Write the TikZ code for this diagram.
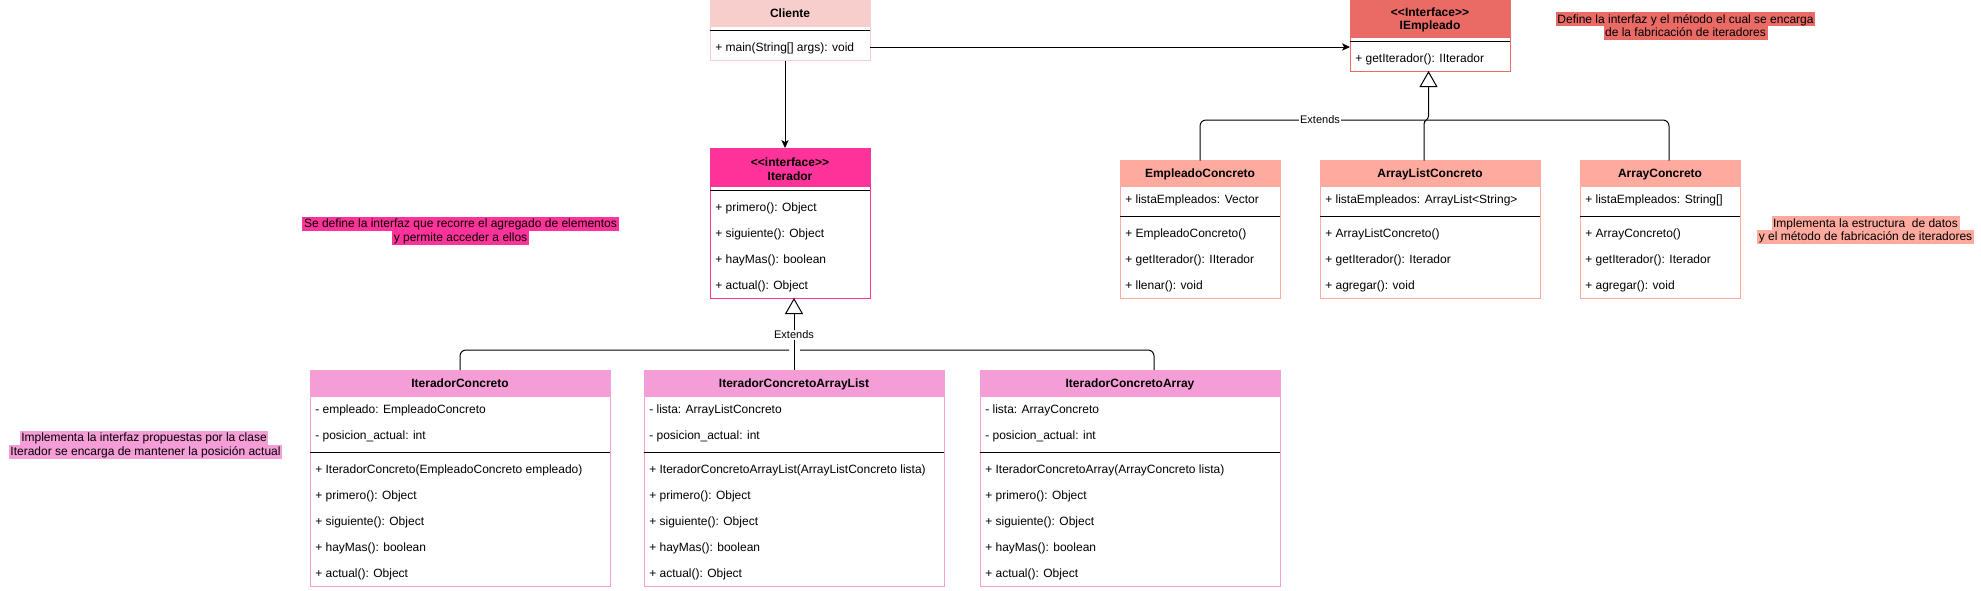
\documentclass[tikz,border=0pt]{standalone}
\usepackage{fontspec}
\newfontfamily\umlfont{Liberation Sans}
\usetikzlibrary{arrows.meta,calc}
\definecolor{cliC}{HTML}{F8CECC}
\definecolor{iterC}{HTML}{FF3399}
\definecolor{iempC}{HTML}{EA6B66}
\definecolor{rightC}{HTML}{FFAA9F}
\definecolor{botC}{HTML}{F59DD6}
\tikzset{
  classbox/.style={rectangle, anchor=north west, inner sep=0pt, outer sep=0pt, fill=white, line width=0.75pt},
  classhead/.style={rectangle, anchor=north west, inner sep=0pt, outer sep=0pt, line width=0.75pt},
  titleone/.style={font=\umlfont\bfseries\fontsize{9}{10.5}\selectfont, inner sep=0pt, text height=6.3pt, text depth=0pt},
  titletwo/.style={font=\umlfont\bfseries\fontsize{9}{10.2}\selectfont, inner sep=0pt, align=center},
  member/.style={anchor=west, font=\umlfont\fontsize{9}{10.8}\selectfont, inner sep=0pt, text height=6.3pt, text depth=0pt},
  seprule/.style={line width=0.75pt, black},
  conn/.style={line width=0.75pt, black},
  assoc/.style={conn, -{Stealth[length=6pt, width=5.5pt, inset=1.6pt]}},
  realize/.style={conn, -{Triangle[open, length=12pt, width=13.5pt, fill=white]}},
  elabel/.style={font=\umlfont\fontsize{8.25}{9.9}\selectfont, fill=white, inner xsep=0.5pt, inner ysep=1pt},
  notebox/.style={font=\umlfont\fontsize{9}{10.8}\selectfont, inner xsep=1.2pt, inner ysep=0pt, text height=8.2pt, text depth=2.3pt},
}
% #1 name, #2 x, #3 top y, #4 width, #5 header height, #6 colour, #7 title, #8 number of attributes, #9 members
\newcommand\umlclass[9]{%
  \foreach \uItem [count=\i] in {#9} {\xdef\uCount{\i}}%
  \pgfmathsetmacro\uTot{#5+26*\uCount+8}%
  \pgfmathsetmacro\uSep{#3+#5+26*#8+4}%
  \node[classbox, draw=#6, minimum width=#4*0.75pt, minimum height=\uTot*0.75pt] (#1) at (#2,#3) {};
  \node[classhead, fill=#6, draw=#6, minimum width=#4*0.75pt, minimum height=#5*0.75pt] (#1-h) at (#2,#3) {};
  \ifdim #5pt>30pt
    \node[titletwo] (#1-t) at (#2+#4/2,#3+21) {#7};
  \else
    \node[titleone] (#1-t) at (#2+#4/2,#3+#5/2) {#7};
  \fi
  \draw[seprule] (#2,\uSep) -- (#2+#4,\uSep);
  \foreach \uItem [count=\i] in {#9} {%
    \pgfmathsetmacro\uY{#3+#5+13+26*(\i-1)+(\i>#8 ? 8 : 0)}%
    \node[member] (#1-m\i) at (#2+5,\uY) {\uItem};
  }%
}
\begin{document}
\begin{tikzpicture}[x=0.75pt, y=-0.75pt]
\useasboundingbox (0,0) rectangle (1981,590);

% classes
\umlclass{cliente}{710}{0.5}{160}{26}{cliC}{Cliente}{0}{+ main(String[] args): void}
\umlclass{iter}{710}{148}{160}{38}{iterC}{<<interface>>\\Iterador}{0}{+ primero(): Object, + siguiente(): Object, + hayMas(): boolean, + actual(): Object}
\umlclass{iemp}{1350}{-1}{160}{38}{iempC}{<<Interface>>\\IEmpleado}{0}{+ getIterador(): IIterador}
\umlclass{ec}{1120}{160.5}{160}{26}{rightC}{EmpleadoConcreto}{1}{+ listaEmpleados: Vector, + EmpleadoConcreto(), + getIterador(): IIterador, + llenar(): void}
\umlclass{alc}{1320}{160.5}{220}{26}{rightC}{ArrayListConcreto}{1}{+ listaEmpleados: ArrayList<String>, + ArrayListConcreto(), + getIterador(): Iterador, + agregar(): void}
\umlclass{ac}{1580}{160.5}{160}{26}{rightC}{ArrayConcreto}{1}{+ listaEmpleados: String[], + ArrayConcreto(), + getIterador(): Iterador, + agregar(): void}
\umlclass{icon}{310}{370}{300}{26}{botC}{IteradorConcreto}{2}{- empleado: EmpleadoConcreto, - posicion\_actual: int, + IteradorConcreto(EmpleadoConcreto empleado), + primero(): Object, + siguiente(): Object, + hayMas(): boolean, + actual(): Object}
\umlclass{ical}{644}{370}{300}{26}{botC}{IteradorConcretoArrayList}{2}{- lista: ArrayListConcreto, - posicion\_actual: int, + IteradorConcretoArrayList(ArrayListConcreto lista), + primero(): Object, + siguiente(): Object, + hayMas(): boolean, + actual(): Object}
\umlclass{ica}{980}{370}{300}{26}{botC}{IteradorConcretoArray}{2}{- lista: ArrayConcreto, - posicion\_actual: int, + IteradorConcretoArray(ArrayConcreto lista), + primero(): Object, + siguiente(): Object, + hayMas(): boolean, + actual(): Object}

% Cliente associations
\coordinate (c-out) at (870,47);
\draw[assoc] (c-out) -- (c-out -| iemp.west);
\draw[assoc] ($(cliente.south)+(-5,0)$) -- ($(iter.north)+(-5,0)$);

% Iterador hierarchy
\coordinate (jl) at (789,350);
\coordinate (jr) at (800,350);
\coordinate (ica-c) at ($(ica.north west)+(174,0)$);
\draw[conn, rounded corners=4.5pt] (icon.north) |- (jl);
\draw[conn, rounded corners=4.5pt] (jr) -| (ica-c);
\draw[realize] (ical.north) -- (ical.north |- iter.south) node[elabel, pos=0.486] (ext1) {Extends};

% IEmpleado hierarchy
\coordinate (ac-c) at ($(ac.north west)+(89,0)$);
\coordinate (alc-c) at ($(alc.north west)+(104,0)$);
\coordinate (iemp-c) at ($(iemp.south)+(-1.5,0)$);
\coordinate (rh) at (1669,120);
\draw[conn, rounded corners=4.5pt] (ec.north) |- (rh) -- (ac-c);
\node[elabel] (ext2) at (1320,120) {Extends};
\draw[realize] (alc-c) -- (1424,124) .. controls (1424,120) and (1428.5,120) .. (1428.5,116) -- (iemp-c);

% notes
\node[notebox, fill=iempC] (n1a) at (1685.5,19.3) {Define la interfaz y el método el cual se encarga};
\node[notebox, fill=iempC] (n1b) at (1685.5,33) {de la fabricación de iteradores};
\node[notebox, fill=rightC] (n2a) at (1865.5,223.3) {Implementa la estructura\ \ de datos};
\node[notebox, fill=rightC] (n2b) at (1865.5,237) {y el método de fabricación de iteradores};
\node[notebox, fill=iterC] (n3a) at (460.5,224) {Se define la interfaz que recorre el agregado de elementos};
\node[notebox, fill=iterC] (n3b) at (460.5,238) {y permite acceder a ellos};
\node[notebox, fill=botC] (n4a) at (144,438) {Implementa la interfaz propuestas por la clase};
\node[notebox, fill=botC] (n4b) at (145.5,452) {Iterador se encarga de mantener la posición actual};
\end{tikzpicture}
\end{document}
